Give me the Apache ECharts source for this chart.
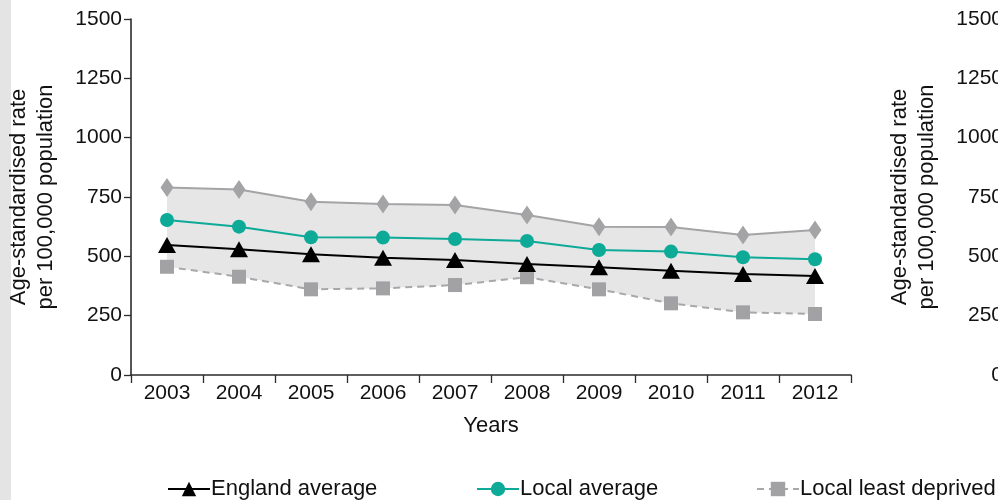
<!DOCTYPE html>
<html>
<head>
<meta charset="utf-8">
<script src="https://cdn.jsdelivr.net/npm/echarts@6/dist/echarts.min.js"></script>
<style>
  html, body { margin: 0; padding: 0; background: #ffffff; }
  #chart { width: 998px; height: 500px; }
</style>
</head>
<body>
<div id="chart"></div>
<script>
// Years on the horizontal axis
const years = ['2003', '2004', '2005', '2006', '2007', '2008', '2009', '2010', '2011', '2012'];

// Age-standardised rate per 100,000 population
const englandAverage = [548, 530, 509, 494, 485, 468, 454, 439, 426, 417];
const localAverage = [653, 625, 580, 579, 573, 565, 527, 520, 496, 488];
const localLeastDeprived = [456, 414, 361, 365, 379, 412, 361, 302, 264, 257];
const localMostDeprived = [790, 782, 730, 720, 716, 674, 625, 624, 590, 611];

// Vertical axis ticks
const yMin = 0, yMax = 1500, yStep = 250;

const FONT = '"Liberation Sans", Arial, sans-serif';
const TEXT = '#111111';
const AXIS = '#2b2b2b';

// Shaded range between least and most deprived
const bandHeight = localMostDeprived.map((v, i) => v - localLeastDeprived[i]);

const yAxisCommon = {
  type: 'value',
  min: yMin,
  max: yMax,
  interval: yStep,
  name: 'Age-standardised rate\nper 100,000 population',
  nameLocation: 'middle',
  nameGap: 72,
  nameTextStyle: { fontFamily: FONT, fontSize: 22, color: TEXT, lineHeight: 27 },
  axisLine: { show: true, lineStyle: { color: AXIS, width: 1.6 } },
  axisTick: { show: true, length: 7, lineStyle: { color: AXIS, width: 1.3 } },
  axisLabel: { fontFamily: FONT, fontSize: 21, color: TEXT, margin: 9, formatter: v => String(v) },
  splitLine: { show: false }
};

const legendCommon = {
  top: 473,
  itemWidth: 42,
  itemHeight: 18,
  itemGap: 6,
  textStyle: { fontFamily: FONT, fontSize: 22, color: TEXT, padding: [0, 0, 0, -4] }
};

const option = {
  animation: false,
  backgroundColor: '#ffffff',
  graphic: [
    { type: 'rect', left: 0, top: 0, shape: { width: 11, height: 500 }, style: { fill: '#e4e4e4' }, z: -10 }
  ],
  grid: [
    { left: 131, top: 19, width: 720, height: 356, outerBoundsMode: 'none', containLabel: false },
    { left: 1012, top: 19, width: 500, height: 356, outerBoundsMode: 'none', containLabel: false }
  ],
  xAxis: [
    {
      type: 'category',
      gridIndex: 0,
      data: years,
      boundaryGap: true,
      name: 'Years',
      nameLocation: 'middle',
      nameGap: 40,
      nameTextStyle: { fontFamily: FONT, fontSize: 22, color: TEXT },
      axisLine: { show: true, lineStyle: { color: AXIS, width: 1.6 } },
      axisTick: { show: true, length: 8, lineStyle: { color: AXIS, width: 1.3 } },
      axisLabel: { fontFamily: FONT, fontSize: 21, color: TEXT, margin: 8 }
    },
    { type: 'category', gridIndex: 1, data: years, show: false }
  ],
  yAxis: [
    Object.assign({ gridIndex: 0 }, yAxisCommon),
    Object.assign({ gridIndex: 1 }, yAxisCommon)
  ],
  legend: [
    Object.assign({ left: 162, data: ['England average'] }, legendCommon),
    Object.assign({ left: 471, data: ['Local average'] }, legendCommon),
    Object.assign({ left: 751, data: ['Local least deprived'] }, legendCommon)
  ],
  series: [
    {
      name: 'band-base',
      type: 'line',
      stack: 'band',
      data: localLeastDeprived,
      symbol: 'none',
      lineStyle: { opacity: 0 },
      silent: true,
      z: 1
    },
    {
      name: 'band',
      type: 'line',
      stack: 'band',
      data: bandHeight,
      symbol: 'none',
      lineStyle: { opacity: 0 },
      areaStyle: { color: '#e6e6e6', opacity: 1 },
      silent: true,
      z: 1
    },
    {
      name: 'Local most deprived',
      type: 'line',
      data: localMostDeprived,
      symbol: 'diamond',
      symbolSize: [13, 19],
      itemStyle: { color: '#a4a4a6' },
      lineStyle: { color: '#a4a4a6', width: 2 },
      z: 3
    },
    {
      name: 'Local least deprived',
      type: 'line',
      data: localLeastDeprived,
      symbol: 'rect',
      symbolSize: 14,
      itemStyle: { color: '#a2a2a5' },
      lineStyle: { color: '#a8a8aa', width: 2, type: [7, 5] },
      z: 3
    },
    {
      name: 'Local average',
      type: 'line',
      data: localAverage,
      symbol: 'circle',
      symbolSize: 14,
      itemStyle: { color: '#0daa98' },
      lineStyle: { color: '#0daa98', width: 2 },
      z: 4
    },
    {
      name: 'England average',
      type: 'line',
      data: englandAverage,
      symbol: 'triangle',
      symbolSize: [18, 16],
      itemStyle: { color: '#000000' },
      lineStyle: { color: '#000000', width: 2 },
      z: 5
    },
    {
      name: 'second-panel',
      type: 'line',
      xAxisIndex: 1,
      yAxisIndex: 1,
      data: []
    }
  ]
};

const chart = echarts.init(document.getElementById('chart'), null, { renderer: 'canvas' });
chart.setOption(option);
</script>
</body>
</html>
